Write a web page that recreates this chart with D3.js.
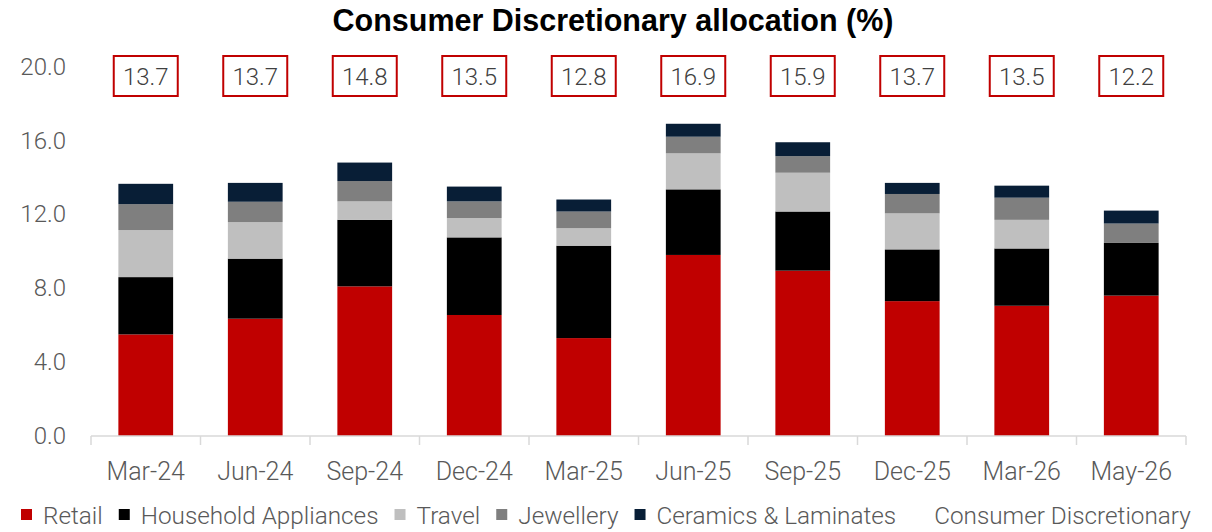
<!DOCTYPE html>
<html>
<head>
<meta charset="utf-8">
<script src="https://cdn.jsdelivr.net/npm/d3@7"></script>
<style>
  body { margin: 0; background: #fff; }
  svg { display: block; }
</style>
</head>
<body>
<div id="chart"></div>
<script>
// data
const categories = ["Mar-24", "Jun-24", "Sep-24", "Dec-24", "Mar-25", "Jun-25", "Sep-25", "Dec-25", "Mar-26", "May-26"];
const retail     = [5.5, 6.35, 8.1, 6.55, 5.3, 9.8, 8.95, 7.3, 7.05, 7.6];
const household  = [3.1, 3.25, 3.6, 4.2, 5.0, 3.55, 3.2, 2.8, 3.1, 2.85];
const travel     = [2.55, 1.98, 1.0, 1.05, 0.95, 1.95, 2.1, 1.95, 1.55, 0];
const jewellery  = [1.4, 1.1, 1.1, 0.9, 0.9, 0.9, 0.9, 1.05, 1.2, 1.05];
const ceramics   = [1.1, 1.02, 1.0, 0.8, 0.65, 0.7, 0.75, 0.6, 0.65, 0.7];
const totals     = [13.7, 13.7, 14.8, 13.5, 12.8, 16.9, 15.9, 13.7, 13.5, 12.2];
const seriesNames = ["Retail", "Household Appliances", "Travel", "Jewellery", "Ceramics & Laminates"];
const yTicks = [0, 4, 8, 12, 16, 20];

const colors = ["#c00000", "#000000", "#bfbfbf", "#7f7f7f", "#081e36"];
const width = 1212, height = 532;
const font = "Roboto, 'Liberation Sans', sans-serif";
const grey = "#595959";

const svg = d3.select("#chart").append("svg")
    .attr("width", width)
    .attr("height", height)
    .attr("viewBox", [0, 0, width, height]);

// title
svg.append("text")
    .attr("x", 613)
    .attr("y", 31)
    .attr("text-anchor", "middle")
    .attr("font-family", "'Liberation Sans', Arial, sans-serif")
    .attr("font-weight", "bold")
    .attr("font-size", 30.5)
    .attr("fill", "#000")
    .text("Consumer Discretionary allocation (%)");

const x = d3.scaleBand()
    .domain(categories)
    .range([91, 1186])
    .paddingInner(0.5)
    .paddingOuter(0.25);

const y = d3.scaleLinear()
    .domain([0, 20])
    .range([436, 66.5]);

// stack table built from the series arrays
const table = categories.map((c, i) => ({
    cat: c,
    "Retail": retail[i],
    "Household Appliances": household[i],
    "Travel": travel[i],
    "Jewellery": jewellery[i],
    "Ceramics & Laminates": ceramics[i]
}));
const stacked = d3.stack().keys(seriesNames)(table);

svg.append("g")
    .selectAll("g")
    .data(stacked)
    .join("g")
    .attr("fill", (d, i) => colors[i])
    .selectAll("rect")
    .data(d => d)
    .join("rect")
    .attr("x", d => x(d.data.cat))
    .attr("y", d => y(d[1]))
    .attr("width", x.bandwidth())
    .attr("height", d => y(d[0]) - y(d[1]));

// y axis labels (no axis line)
svg.append("g")
    .attr("transform", "translate(66,0)")
    .call(d3.axisLeft(y).tickValues(yTicks).tickFormat(d3.format(".1f")).tickSize(0).tickPadding(0))
    .call(g => g.select(".domain").remove())
    .call(g => g.selectAll("text")
        .attr("font-family", font)
        .attr("font-weight", 300)
        .attr("font-size", 24)
        .attr("fill", grey));

// x axis: light line with ticks between categories
const xAxis = svg.append("g").attr("transform", `translate(0,${y(0)})`);
xAxis.append("line")
    .attr("x1", x.range()[0])
    .attr("x2", x.range()[1])
    .attr("stroke", "#d9d9d9")
    .attr("stroke-width", 1.5);
const edges = categories.map(c => x(c) - x.step() * x.paddingInner() / 2).concat([x.range()[1]]);
xAxis.selectAll(".tk")
    .data(edges)
    .join("line")
    .attr("class", "tk")
    .attr("x1", d => d).attr("x2", d => d)
    .attr("y1", 0).attr("y2", 9)
    .attr("stroke", "#d9d9d9")
    .attr("stroke-width", 1.5);
xAxis.selectAll("text")
    .data(categories)
    .join("text")
    .attr("x", d => x(d) + x.bandwidth() / 2)
    .attr("y", 44)
    .attr("text-anchor", "middle")
    .attr("font-family", font)
    .attr("font-weight", 300)
    .attr("font-size", 25)
    .attr("fill", grey)
    .text(d => d);

// total labels in red boxes
const boxW = 64, boxH = 40, boxTop = 56;
const boxes = svg.append("g")
    .selectAll("g")
    .data(categories)
    .join("g")
    .attr("transform", d => `translate(${x(d) + x.bandwidth() / 2},${boxTop})`);
boxes.append("rect")
    .attr("x", -boxW / 2)
    .attr("width", boxW)
    .attr("height", boxH)
    .attr("fill", "#fff")
    .attr("stroke", "#c00000")
    .attr("stroke-width", 2);
boxes.append("text")
    .attr("y", boxH / 2)
    .attr("dy", "0.36em")
    .attr("text-anchor", "middle")
    .attr("font-family", font)
    .attr("font-weight", 300)
    .attr("font-size", 24)
    .attr("fill", "#404040")
    .text((d, i) => d3.format(".1f")(totals[i]));

// legend
const legend = svg.append("g").attr("transform", "translate(21,524)");
let lx = 0;
seriesNames.forEach((name, i) => {
    legend.append("rect")
        .attr("x", lx)
        .attr("y", -15)
        .attr("width", 11)
        .attr("height", 11)
        .attr("fill", colors[i]);
    const t = legend.append("text")
        .attr("x", lx + 22)
        .attr("font-family", font)
        .attr("font-weight", 300)
        .attr("font-size", 24.3)
        .attr("fill", grey)
        .text(name);
    lx += 22 + t.node().getComputedTextLength() + 16;
});
legend.append("text")
    .attr("x", lx + 22)
    .attr("font-family", font)
    .attr("font-weight", 300)
    .attr("font-size", 24.3)
    .attr("fill", grey)
    .text("Consumer Discretionary");
</script>
</body>
</html>
